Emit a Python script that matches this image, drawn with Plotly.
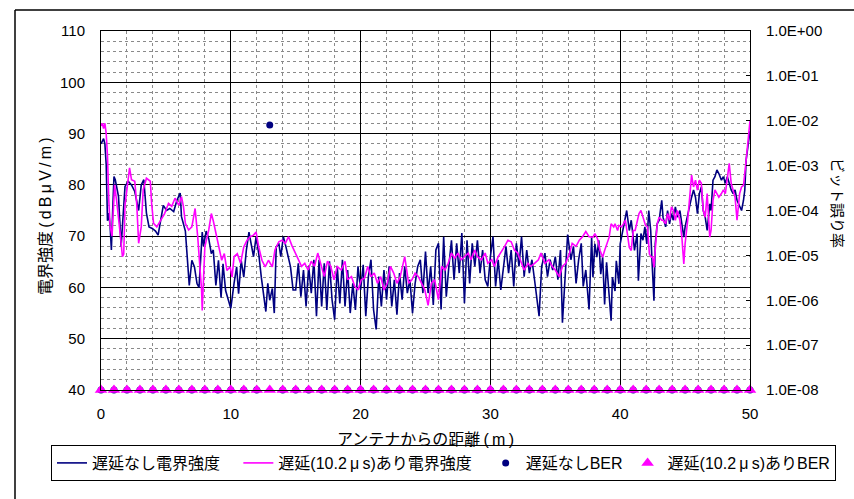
import plotly.graph_objects as go

# Field strength without delay (distance in m, dBμV/m)
nodelay_x = [0.0, 0.1, 0.2, 0.3, 0.4, 0.5, 0.6, 0.7, 0.8, 0.9, 1.0, 1.1, 1.35, 1.55, 1.7, 1.85,
             2.1, 2.35, 2.6, 2.9, 3.1, 3.3, 3.5, 3.7, 3.95, 4.2, 4.4, 4.6, 4.8, 5.05, 5.3, 5.6,
             5.85, 6.1, 6.2, 6.5, 6.6, 6.8, 7.0, 7.2, 7.4, 7.55, 7.8, 7.9, 8.1, 8.3, 8.5, 8.65,
             8.85, 9.05, 9.25, 9.4, 9.6, 9.8, 10.0, 10.25, 10.45, 10.6, 10.8, 11.0, 11.2, 11.4,
             11.55, 11.75, 11.95, 12.15, 12.35, 12.55, 12.7, 12.85, 13.0, 13.2, 13.35, 13.5, 13.7,
             13.85, 14.05, 14.25, 14.45, 14.6, 14.8, 15.0,
             15.2, 15.4, 15.6, 15.8, 16.0, 16.2, 16.4, 16.6, 16.8, 17.0, 17.2, 17.4, 17.6, 17.8,
             18.0, 18.2, 18.4, 18.6, 18.8, 19.0, 19.2, 19.4, 19.6, 19.8, 20.0, 20.2, 20.4, 20.6,
             20.8, 21.0, 21.2, 21.4, 21.6, 21.8, 22.0, 22.2, 22.4, 22.6, 22.8, 23.0, 23.2, 23.4,
             23.6, 23.8, 24.0, 24.2, 24.4, 24.6, 24.8, 25.0,
             25.2, 25.4, 25.6, 25.8, 26.0, 26.2, 26.4, 26.6, 26.8, 27.0, 27.2, 27.4, 27.6, 27.8,
             28.0, 28.2, 28.4, 28.6, 28.8, 29.0, 29.2, 29.4, 29.6, 29.8, 30.0, 30.2, 30.4, 30.6,
             30.8, 31.0, 31.2, 31.4, 31.6, 31.8, 32.0, 32.2, 32.4, 32.6, 32.8, 33.0, 33.2, 33.4,
             33.6, 33.75, 33.95, 34.2, 34.4, 34.6, 34.8, 35.0, 35.2, 35.4, 35.55, 35.8, 35.95,
             36.2, 36.4, 36.6, 36.8, 37.0, 37.15, 37.35, 37.6,
             37.8, 37.9, 38.05, 38.2, 38.35, 38.5, 38.65, 38.8, 38.95, 39.1, 39.3, 39.4, 39.6,
             39.7, 39.9, 40.0, 40.2, 40.35, 40.5, 40.7, 40.85, 41.0, 41.1, 41.3, 41.4, 41.6,
             41.75, 41.9, 42.05, 42.2, 42.35, 42.45, 42.6, 42.7, 42.85, 43.0, 43.2, 43.3, 43.5,
             43.65, 43.8, 43.95, 44.1, 44.25, 44.4, 44.6, 44.75, 44.9, 45.0, 45.2, 45.35, 45.5,
             45.65, 45.8, 45.95, 46.1, 46.25, 46.4, 46.55, 46.7, 46.9, 47.0, 47.15, 47.3, 47.45,
             47.6, 47.8, 47.95, 48.1, 48.25, 48.4, 48.55, 48.7, 48.85, 49.0, 49.2, 49.35, 49.5,
             49.6, 49.7, 49.8, 49.95, 50.0]
nodelay_y = [88.0, 88.5, 89.0, 88.0, 84.0, 73.0, 74.5, 72.0, 67.3, 75.0, 81.6, 81.0, 77.7, 68.0, 74.5, 79.7,
             80.7, 80.0, 78.7, 75.0, 80.0, 81.0, 74.5, 71.8, 71.5, 71.0, 70.2, 73.0, 76.0, 75.0, 75.4, 74.8,
             77.0, 78.4, 73.8, 71.0, 68.0, 60.4, 65.3, 64.0, 60.7, 60.0, 70.8, 68.0, 71.0, 69.5, 66.6, 67.3,
             60.4, 65.3, 58.0, 64.6, 59.4, 57.5, 55.9, 60.8, 64.0, 58.8, 65.3, 62.0, 67.3, 70.8,
             68.6, 66.0, 69.9, 66.6, 62.0, 57.5, 55.3, 60.8, 57.5, 59.8, 55.0, 67.9, 68.6,
             66.0, 69.9, 67.9, 65.3, 64.0, 59.5, 59.5,
             64.7, 58.2, 63.4, 56.3, 64.1, 58.9, 65.4, 54.4, 65.4, 56.3, 64.7, 55.6, 65.1, 57.6,
             53.7, 64.1, 56.9, 65.4, 56.3, 63.4, 55.0, 60.8, 55.6, 64.1, 59.5, 64.4, 54.4, 62.1,
             65.4, 55.6, 51.8, 62.1, 56.3, 63.4, 57.6, 64.1, 56.3, 61.5, 54.7, 62.8, 57.6, 64.1,
             58.9, 61.5, 55.0, 60.8, 64.1, 65.4, 58.9, 67.0,
             58.9, 64.1, 56.6, 67.3, 68.6, 55.7, 69.9, 58.2, 64.1, 69.2, 61.5, 68.6, 62.8, 70.6,
             56.9, 69.2, 60.8, 68.6, 64.1, 69.2, 62.8, 67.3, 61.5, 60.2, 66.0, 69.9, 60.2, 65.4,
             59.5, 64.1, 68.0, 62.8, 67.3, 60.2, 68.6, 64.1, 69.9, 62.1, 67.3, 62.8, 65.4, 61.5,
             57.6, 54.4, 64.1, 66.7, 62.1, 65.4, 63.4, 66.0, 61.5, 67.3, 53.1, 64.1, 70.3,
             65.4, 68.0, 60.8, 65.4, 68.6, 60.2, 63.4, 55.7,
             69.8, 62.0, 68.5, 65.9, 69.2, 62.6, 65.9, 56.7, 64.9, 59.3, 53.5, 62.0, 59.3,
             65.2, 60.7, 68.5, 71.1, 73.1, 75.0, 71.1, 73.1, 69.8, 67.2, 70.5, 61.3, 70.5,
             69.2, 71.8, 68.5, 75.0, 71.1, 65.2, 57.4, 68.5, 72.4, 73.1, 77.0, 73.7, 71.8,
             75.0, 72.4, 74.4, 73.1, 75.7, 73.7, 75.0, 72.4, 69.8, 71.8, 74.4, 76.3, 77.6,
             79.0, 77.6, 74.4, 78.3, 79.6, 75.0, 73.7, 71.1, 76.3, 75.0, 80.9, 81.6, 82.9,
             82.2, 80.9, 81.6, 80.3, 81.6, 80.3, 79.0, 78.3, 79.0, 77.0, 75.7, 75.0, 77.0,
             79.0, 84.8, 86.8, 89.4, 90.5]

# Field strength with 10.2 μs delay
delay_x = [0.0, 0.1, 0.2, 0.3, 0.4, 0.5, 0.6, 0.7, 0.85, 1.0, 1.05, 1.2, 1.35, 1.5, 1.65, 1.75,
           1.85, 2.1, 2.2, 2.35, 2.6, 2.75, 2.9, 3.1, 3.25, 3.5, 3.8, 3.9, 4.05, 4.3, 4.55, 4.9,
           5.2, 5.45, 5.7, 6.0, 6.2, 6.35, 6.5, 6.75, 7.0, 7.25, 7.45, 7.6, 7.75, 7.8, 8.0, 8.3,
           8.5, 8.65, 8.85, 9.1, 9.3, 9.5, 9.7, 9.95, 10.1, 10.25, 10.5, 10.75, 11.0, 11.25,
           11.5, 11.75, 11.95, 12.15, 12.4, 12.65, 12.9, 13.2, 13.4, 13.7, 13.95, 14.2, 14.45,
           14.7, 15.0,
           15.2, 15.45, 15.7, 15.95, 16.2, 16.45, 16.7, 16.95, 17.2, 17.45, 17.7, 17.95, 18.2,
           18.5, 18.8, 19.0, 19.3, 19.55, 19.8, 20.05, 20.3, 20.55, 20.8, 21.05, 21.3, 21.55,
           21.8, 22.05, 22.3, 22.55, 22.8, 23.05, 23.3, 23.4, 23.7, 23.95, 24.2, 24.45, 24.7,
           24.95, 25.2,
           25.45, 25.7, 26.0, 26.25, 26.5, 26.75, 27.0, 27.25, 27.5, 27.75, 28.0, 28.3, 28.5,
           28.8, 29.0, 29.3, 29.6, 29.8, 30.1, 30.3, 30.6, 30.8, 31.1, 31.35, 31.6, 31.85, 32.1,
           32.4, 32.6, 32.9, 33.1, 33.4, 33.7, 33.9, 34.2, 34.5, 34.75, 35.0, 35.3, 35.55, 35.8,
           36.1, 36.3, 36.6, 36.85, 37.1, 37.35, 37.6,
           37.9, 38.05, 38.25, 38.45, 38.65, 38.8, 39.0, 39.15, 39.3, 39.5, 39.6, 39.8, 39.9,
           40.1, 40.25, 40.4, 40.55, 40.7, 40.85, 41.0, 41.15, 41.3, 41.45, 41.6, 41.75, 41.95,
           42.1, 42.25, 42.4, 42.5, 42.6, 42.75, 42.85, 43.0, 43.2, 43.3, 43.5, 43.65, 43.8,
           43.95, 44.1, 44.25, 44.4, 44.6, 44.75, 44.9, 45.0, 45.2, 45.35, 45.5, 45.65, 45.8,
           45.95, 46.1, 46.25, 46.4, 46.55, 46.7, 46.9, 47.0, 47.15, 47.3, 47.45, 47.6, 47.8,
           47.95, 48.1, 48.25, 48.4, 48.55, 48.7, 48.85, 49.0, 49.2, 49.35, 49.5, 49.65, 49.8,
           49.95, 50.0]
delay_y = [91.5, 92.0, 91.0, 92.0, 90.0, 85.6, 77.0, 72.0, 70.0, 76.0, 80.0, 77.0, 74.0, 70.0, 66.0, 66.5,
           76.0, 81.6, 83.3, 81.0, 80.7, 76.4, 68.6, 71.8, 79.0, 81.3, 80.7, 76.4, 72.5, 71.8, 73.0, 74.4,
           76.4, 75.8, 77.4, 76.0, 77.7, 75.8, 72.5, 71.2, 71.8, 75.4, 69.9, 65.3, 59.4, 55.5, 67.9, 71.2,
           74.4, 73.0, 70.5, 68.0, 65.3, 66.6, 63.3, 64.0, 62.0, 66.0, 66.6, 64.7, 67.9, 69.2,
           69.9, 70.2, 70.8, 67.9, 65.3, 64.0, 65.3, 64.0, 67.3, 68.9, 69.2, 68.6, 69.9,
           68.2, 66.5,
           65.7, 64.1, 64.7, 63.4, 65.1, 64.1, 66.7, 64.1, 62.1, 65.1, 64.1, 61.5, 64.1,
           63.4, 65.1, 61.5, 62.1, 60.2, 59.5, 61.5, 61.8, 64.1, 62.1, 62.8, 60.8, 62.1,
           59.5, 60.8, 64.1, 62.8, 60.8, 62.1, 64.7, 66.0, 60.8, 61.5, 62.8, 62.1, 60.8,
           59.5, 56.5,
           60.8, 61.5, 57.6, 64.1, 63.4, 64.7, 66.7, 65.7, 66.7, 65.4, 66.0, 66.7, 65.4,
           67.3, 66.0, 65.4, 66.7, 64.7, 65.4, 64.1, 66.0, 66.7, 68.0, 69.2, 68.9, 67.3, 66.7,
           64.7, 63.4, 64.7, 64.1, 64.7, 65.4, 66.7, 64.7, 65.4, 64.1, 63.4, 62.1, 64.1, 64.7,
           66.7, 68.6, 68.0, 69.2, 69.9, 70.9, 69.9,
           69.8, 70.5, 69.5, 67.2, 65.9, 67.2, 68.5, 69.8, 72.4, 71.8, 72.4, 71.1, 72.1,
           71.8, 72.4, 73.1, 70.5, 67.8, 67.2, 71.1, 71.1, 73.1, 74.4, 75.0, 73.7, 72.1,
           71.8, 66.5, 65.9, 65.9, 63.9, 68.5, 72.4, 73.7, 73.1, 73.1, 72.4, 74.4, 73.1,
           75.7, 75.0, 73.1, 75.0, 73.1, 69.8, 64.6, 68.5, 73.1, 78.3, 81.9, 79.6, 80.9,
           79.0, 80.9, 80.3, 75.0, 73.7, 78.3, 69.8, 71.1, 77.0, 79.0, 78.3, 77.6, 78.3,
           79.0, 78.3, 80.9, 84.2, 80.3, 79.0, 77.6, 73.1, 78.3, 79.6, 79.9, 83.5, 87.4,
           92.0, 92.5]

# Bit error rate, measured every metre (1.0E-08 is the floor of the scale)
ber_x = [0, 1, 2, 3, 4, 5, 6, 7, 8, 9, 10, 11, 12, 13, 14, 15, 16, 17, 18, 19, 20, 21, 22, 23, 24, 25,
         26, 27, 28, 29, 30, 31, 32, 33, 34, 35, 36, 37, 38, 39, 40, 41, 42, 43, 44, 45, 46, 47, 48, 49, 50]
ber_nodelay = [1e-8, 1e-8, 1e-8, 1e-8, 1e-8, 1e-8, 1e-8, 1e-8, 1e-8, 1e-8, 1e-8, 1e-8, 1e-8, 8e-3,
               1e-8, 1e-8, 1e-8, 1e-8, 1e-8, 1e-8, 1e-8, 1e-8, 1e-8, 1e-8, 1e-8, 1e-8, 1e-8, 1e-8,
               1e-8, 1e-8, 1e-8, 1e-8, 1e-8, 1e-8, 1e-8, 1e-8, 1e-8, 1e-8, 1e-8, 1e-8, 1e-8, 1e-8,
               1e-8, 1e-8, 1e-8, 1e-8, 1e-8, 1e-8, 1e-8, 1e-8, 1e-8]
ber_delay = [1e-8, 1e-8, 1e-8, 1e-8, 1e-8, 1e-8, 1e-8, 1e-8, 1e-8, 1e-8, 1e-8, 1e-8, 1e-8, 1e-8,
             1e-8, 1e-8, 1e-8, 1e-8, 1e-8, 1e-8, 1e-8, 1e-8, 1e-8, 1e-8, 1e-8, 1e-8, 1e-8, 1e-8,
             1e-8, 1e-8, 1e-8, 1e-8, 1e-8, 1e-8, 1e-8, 1e-8, 1e-8, 1e-8, 1e-8, 1e-8, 1e-8, 1e-8,
             1e-8, 1e-8, 1e-8, 1e-8, 1e-8, 1e-8, 1e-8, 1e-8, 1e-8]

ber_tickvals = [1e-8, 1e-7, 1e-6, 1e-5, 1e-4, 1e-3, 1e-2, 1e-1, 1e0]
ber_ticktext = ["1.0E-08", "1.0E-07", "1.0E-06", "1.0E-05", "1.0E-04",
                "1.0E-03", "1.0E-02", "1.0E-01", "1.0E+00"]

NAVY = "#000080"
MAGENTA = "#FF00FF"
FONT = "Liberation Sans, Arial, Noto Sans CJK JP, sans-serif"
TS = "\u2009"   # thin space used inside the unit labels
NB = "\u00a0"   # padding between legend entries

# Page 854 x 499; the paper spans x 15..845, the plot area x 101..750, y 31..390
W, H = 854, 499
ML, MR = 15, 9
L, R, T, B = 101, 750, 31, 390
paper_w = W - ML - MR
ph = B - T


def px(x):
    return (x - ML) / paper_w


def py(y):
    return (B - y) / ph


fig = go.Figure()
fig.add_trace(go.Scatter(x=nodelay_x, y=nodelay_y, mode="lines", name="遅延なし電界強度" + NB * 3,
                         line=dict(color=NAVY, width=1.6)))
fig.add_trace(go.Scatter(x=delay_x, y=delay_y, mode="lines",
                         name=f"遅延(10.2{TS}μ{TS}s)あり電界強度" + NB * 2,
                         line=dict(color=MAGENTA, width=1.6)))
fig.add_trace(go.Scatter(x=ber_x, y=ber_nodelay, mode="markers", name="遅延なしBER", yaxis="y2",
                         cliponaxis=False, marker=dict(color=NAVY, size=7, symbol="circle")))
fig.add_trace(go.Scatter(x=ber_x, y=ber_delay, mode="markers", name=f"遅延(10.2{TS}μ{TS}s)ありBER",
                         yaxis="y2", cliponaxis=False,
                         marker=dict(color=MAGENTA, size=11, symbol="triangle-up")))

minor_grid = dict(dtick=2, showgrid=True, gridcolor="#8a8a8a", griddash="dot", gridwidth=1)

fig.update_layout(
    width=W, height=H,
    margin=dict(l=ML, r=MR, t=T, b=H - B, autoexpand=False),
    paper_bgcolor="white", plot_bgcolor="white",
    font=dict(family=FONT, size=15, color="black"),
    showlegend=True,
    legend=dict(orientation="h", x=px(51), y=py(445), xanchor="left", yanchor="top",
                bordercolor="black", borderwidth=1, font=dict(size=16), tracegroupgap=0),
    xaxis=dict(domain=[px(L), px(R)], range=[0, 50], dtick=10, tick0=0, showline=True,
               linecolor="black", linewidth=1, mirror=True, showgrid=True, gridcolor="black",
               gridwidth=1, zeroline=False, ticks="", ticklabelstandoff=10,
               tickfont=dict(size=15), minor=minor_grid),
    yaxis=dict(range=[40, 110], dtick=10, tick0=40, showline=True, linecolor="black", linewidth=1,
               mirror=True, showgrid=True, gridcolor="black", gridwidth=1, zeroline=False,
               ticks="", ticklabelstandoff=12, tickfont=dict(size=15), minor=minor_grid),
    yaxis2=dict(type="log", range=[-8, 0], overlaying="y", side="right", anchor="x", showgrid=False,
                tickvals=ber_tickvals, ticktext=ber_ticktext, ticks="inside", ticklen=4,
                tickcolor="black", ticklabelstandoff=12, tickfont=dict(size=15),
                showline=True, linecolor="black", zeroline=False),
    annotations=[
        dict(text=f"電界強度{TS}({TS}d{TS}B{TS}μ{TS}V{TS}/{TS}m{TS})", xref="paper", yref="paper",
             x=px(45), y=py(216), xanchor="center", yanchor="middle", textangle=-90,
             showarrow=False, font=dict(size=16)),
        dict(text="ビット誤り率", xref="paper", yref="paper", x=px(838), y=py(203),
             xanchor="center", yanchor="middle", textangle=90, showarrow=False,
             font=dict(size=15)),
        dict(text=f"アンテナからの距離{TS}({TS}m{TS})", xref="paper", yref="paper", x=px(425),
             y=py(439), xanchor="center", yanchor="middle", showarrow=False, font=dict(size=16)),
    ],
    shapes=[
        # outer chart-area frame (left and top edges)
        dict(type="line", xref="paper", yref="paper", x0=px(15), x1=px(15), y0=py(H + 5), y1=py(10),
             line=dict(color="black", width=1.5)),
        dict(type="line", xref="paper", yref="paper", x0=px(15), x1=px(W + 5), y0=py(10), y1=py(10),
             line=dict(color="black", width=1.5)),
    ],
)

fig.write_html("out.html")
